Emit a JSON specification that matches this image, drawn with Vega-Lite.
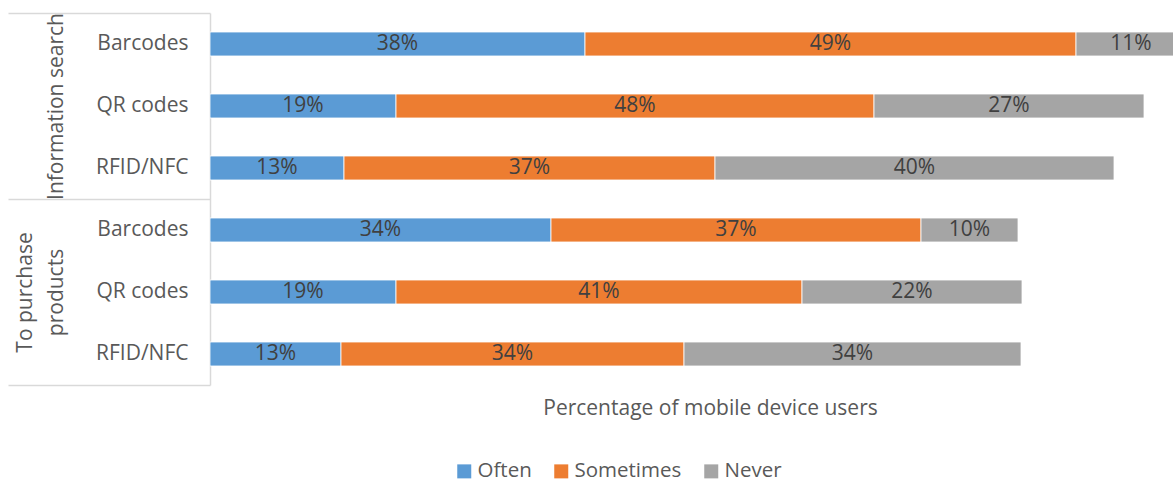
{
  "$schema": "https://vega.github.io/schema/vega-lite/v6.json",
  "width": 963,
  "height": 372,
  "autosize": {"type": "none"},
  "padding": {"left": 210, "top": 13, "right": 0, "bottom": 99},
  "background": "white",
  "config": {"view": {"stroke": null}, "font": "Open Sans"},
  "data": {
    "values": [
      {"group": "Information search", "row": "Information search|Barcodes", "answer": "Often", "value": 0.375},
      {"group": "Information search", "row": "Information search|Barcodes", "answer": "Sometimes", "value": 0.491},
      {"group": "Information search", "row": "Information search|Barcodes", "answer": "Never", "value": 0.11},
      {"group": "Information search", "row": "Information search|QR codes", "answer": "Often", "value": 0.186},
      {"group": "Information search", "row": "Information search|QR codes", "answer": "Sometimes", "value": 0.478},
      {"group": "Information search", "row": "Information search|QR codes", "answer": "Never", "value": 0.27},
      {"group": "Information search", "row": "Information search|RFID/NFC", "answer": "Often", "value": 0.134},
      {"group": "Information search", "row": "Information search|RFID/NFC", "answer": "Sometimes", "value": 0.371},
      {"group": "Information search", "row": "Information search|RFID/NFC", "answer": "Never", "value": 0.399},
      {"group": "To purchase products", "row": "To purchase products|Barcodes", "answer": "Often", "value": 0.341},
      {"group": "To purchase products", "row": "To purchase products|Barcodes", "answer": "Sometimes", "value": 0.37},
      {"group": "To purchase products", "row": "To purchase products|Barcodes", "answer": "Never", "value": 0.097},
      {"group": "To purchase products", "row": "To purchase products|QR codes", "answer": "Often", "value": 0.186},
      {"group": "To purchase products", "row": "To purchase products|QR codes", "answer": "Sometimes", "value": 0.406},
      {"group": "To purchase products", "row": "To purchase products|QR codes", "answer": "Never", "value": 0.22},
      {"group": "To purchase products", "row": "To purchase products|RFID/NFC", "answer": "Often", "value": 0.131},
      {"group": "To purchase products", "row": "To purchase products|RFID/NFC", "answer": "Sometimes", "value": 0.343},
      {"group": "To purchase products", "row": "To purchase products|RFID/NFC", "answer": "Never", "value": 0.337}
    ]
  },
  "transform": [
    {"calculate": "indexof(['Often','Sometimes','Never'], datum.answer)", "as": "stackKey"}
  ],
  "layer": [
    {
      "mark": {"type": "bar", "opacity": 0},
      "encoding": {
        "y": {
          "field": "group",
          "type": "nominal",
          "sort": null,
          "scale": {"type": "band", "paddingInner": 0, "paddingOuter": 0},
          "axis": {
            "orient": "left",
            "title": null,
            "domain": false,
            "grid": false,
            "ticks": true,
            "tickBand": "extent",
            "tickSize": 202,
            "tickColor": "#d9d9d9",
            "tickWidth": 1.5,
            "labelAngle": -90,
            "labelAlign": "center",
            "labelBaseline": "bottom",
            "labelPadding": -27,
            "labelFont": "Open Sans",
            "labelFontSize": 21,
            "labelColor": "#595959",
            "labelLineHeight": 31,
            "labelLimit": 400,
            "labelExpr": "datum.value == 'To purchase products' ? ['To purchase', 'products'] : ['', datum.value]"
          }
        }
      }
    },
    {
      "encoding": {
        "y": {
          "field": "row",
          "type": "nominal",
          "sort": null,
          "scale": {"type": "band", "paddingInner": 0.613, "paddingOuter": 0.3065},
          "axis": {
            "orient": "left",
            "title": null,
            "ticks": false,
            "grid": false,
            "domain": true,
            "domainColor": "#d9d9d9",
            "domainWidth": 1.5,
            "labelAlign": "right",
            "labelBaseline": "middle",
            "labelPadding": 22,
            "labelFont": "Open Sans",
            "labelFontSize": 21,
            "labelColor": "#595959",
            "labelExpr": "split(datum.value, '|')[1]"
          }
        }
      },
      "layer": [
        {
          "mark": {"type": "bar", "clip": true, "stroke": "white", "strokeWidth": 0.8},
          "encoding": {
            "x": {
              "field": "value",
              "type": "quantitative",
              "stack": "zero",
              "scale": {"domain": [0, 0.963], "nice": false, "zero": true},
              "axis": {
                "title": "Percentage of mobile device users",
                "labels": false,
                "ticks": false,
                "domain": false,
                "grid": false,
                "titleX": 500,
                "titleY": 12,
                "titleAlign": "center",
                "titleBaseline": "top",
                "titleFont": "Open Sans",
                "titleFontSize": 21,
                "titleFontWeight": "normal",
                "titleColor": "#595959"
              }
            },
            "color": {
              "field": "answer",
              "type": "nominal",
              "scale": {"domain": ["Often", "Sometimes", "Never"], "range": ["#5B9BD5", "#ED7D31", "#A5A5A5"]},
              "legend": {
                "orient": "none",
                "legendX": 244,
                "legendY": 448,
                "direction": "horizontal",
                "title": null,
                "symbolType": "square",
                "symbolSize": 196,
                "symbolStrokeWidth": 0,
                "labelFont": "Open Sans",
                "labelFontSize": 20.5,
                "labelColor": "#595959",
                "labelOffset": 3,
                "columnPadding": 19
              }
            },
            "order": {"field": "stackKey", "type": "quantitative"}
          }
        },
        {
          "mark": {"type": "text", "align": "center", "baseline": "middle", "font": "Open Sans", "fontSize": 21, "color": "#404040"},
          "encoding": {
            "x": {"field": "value", "type": "quantitative", "stack": "zero", "bandPosition": 0.5},
            "detail": {"field": "answer", "type": "nominal"},
            "order": {"field": "stackKey", "type": "quantitative"},
            "text": {"field": "value", "type": "quantitative", "format": ".0%"}
          }
        }
      ]
    }
  ],
  "resolve": {"scale": {"y": "independent"}, "axis": {"y": "independent"}}
}
